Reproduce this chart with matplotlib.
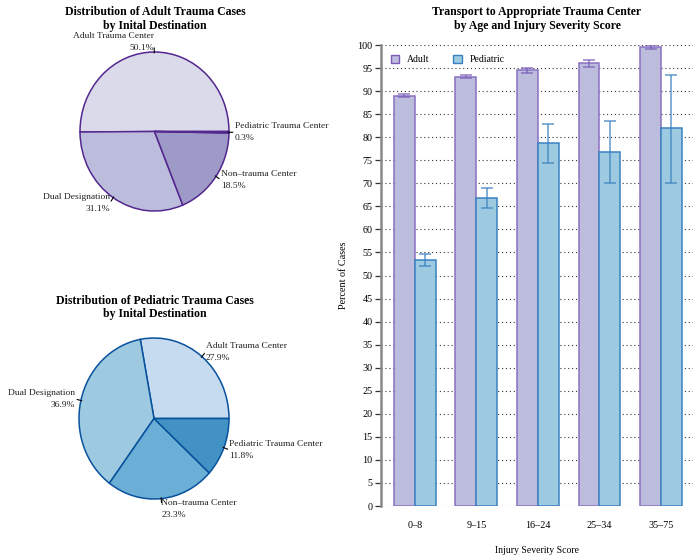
import numpy as np
import matplotlib
matplotlib.use('Agg')
from matplotlib import pyplot as plt
from matplotlib.patches import Patch

plt.rcParams['font.family'] = ['Liberation Serif', 'DejaVu Serif']

# pie data
dest_labels = ['Adult Trauma Center', 'Dual Designation', 'Non\u2013trauma Center', 'Pediatric Trauma Center']
adult_share = [50.1, 31.1, 18.5, 0.3]
peds_share = [27.9, 36.9, 23.3, 11.8]

# bar data
iss_groups = ['0\u20138', '9\u201315', '16\u201324', '25\u201334', '35\u201375']
adult_pct = [89.0, 93.1, 94.5, 96.0, 99.6]
adult_lo = [88.7, 92.8, 94.0, 95.3, 99.2]
adult_hi = [89.3, 93.4, 95.0, 96.7, 100.0]
peds_pct = [53.3, 66.8, 78.7, 76.8, 81.9]
peds_lo = [52.0, 64.7, 74.5, 70.1, 70.1]
peds_hi = [54.7, 68.9, 82.8, 83.5, 93.6]

W, H = 693, 556
fig = plt.figure(figsize=(W / 100, H / 100), dpi=100)


def px_axes(cx, cy, rx, ry):
    # axes placed so a unit pie sits at pixel centre (cx, cy) with radii rx, ry
    w, h = rx * 2.5, ry * 2.5
    return fig.add_axes([(cx - w / 2) / W, (H - cy - h / 2) / H, w / W, h / H])


def draw_pie(ax, shares, colors, edge):
    ax.pie(shares, colors=colors, startangle=0, counterclock=True,
           wedgeprops=dict(edgecolor=edge, linewidth=1.1))
    ax.set_aspect('auto')
    ax.set_xlim(-1.25, 1.25)
    ax.set_ylim(-1.25, 1.25)
    total = sum(shares)
    start = 0.0
    for lab, v in zip(dest_labels, shares):
        mid = np.deg2rad(start + 360 * v / total / 2)
        start += 360 * v / total
        c, s = np.cos(mid), np.sin(mid)
        ax.plot([c * 0.99, c * 1.05], [s * 0.99, s * 1.05], color='black', lw=0.8)
        ha = 'left' if c >= 0 else 'right'
        if s > 0.9:
            va, r = 'bottom', 1.0
        elif s < -0.9:
            va, r = 'top', 1.0
        else:
            va, r = 'center', 1.08
        ax.text(c * r, s * r, f'{lab}\n{v}%', ha=ha, va=va, fontsize=6.8,
                linespacing=1.65, color='#222222')


def fig_title(x, y, txt):
    fig.text(x / W, 1 - y / H, txt, ha='center', va='center', fontsize=8.5,
             fontweight='bold', linespacing=1.2)


ax1 = px_axes(154.5, 131.5, 74.5, 79.5)
draw_pie(ax1, adult_share, ['#dadaeb', '#bcbddc', '#9e9ac8', '#6a51a3'], '#54278f')
fig_title(155, 19, 'Distribution of Adult Trauma Cases\nby Inital Destination')

ax2 = px_axes(154, 418.5, 75, 80.5)
draw_pie(ax2, peds_share, ['#c6dbef', '#9ecae1', '#6baed6', '#4292c6'], '#08519c')
fig_title(155, 307.5, 'Distribution of Pediatric Trauma Cases\nby Inital Destination')

# grouped bar chart
ax = fig.add_axes([381 / W, (H - 506) / H, (W - 381) / W, (506 - 45) / H])
x = np.arange(len(iss_groups))
bw = 0.34
a_err = [np.array(adult_pct) - adult_lo, np.array(adult_hi) - adult_pct]
p_err = [np.array(peds_pct) - peds_lo, np.array(peds_hi) - peds_pct]

ax.bar(x - bw / 2, adult_pct, bw, color='#bcbddc', edgecolor='#8a6fc2', linewidth=1.1, zorder=3)
ax.bar(x + bw / 2, peds_pct, bw, color='#9ecae1', edgecolor='#3a82c2', linewidth=1.1, zorder=3)
ax.errorbar(x - bw / 2, adult_pct, yerr=a_err, fmt='none', ecolor='#7a5cb8', alpha=0.8,
            elinewidth=1.1, capsize=4, capthick=1.1, zorder=4)
ax.errorbar(x + bw / 2, peds_pct, yerr=p_err, fmt='none', ecolor='#3a80c0', alpha=0.8,
            elinewidth=1.1, capsize=4, capthick=1.1, zorder=4)

ax.set_xlim(-0.55, 4.52)
ax.set_ylim(0, 100)
ax.set_yticks(np.arange(0, 101, 5))
ax.set_xticks(x)
ax.set_xticklabels(iss_groups)
ax.yaxis.grid(True, linestyle=(0, (1, 2.5)), color='#333333', linewidth=0.8, zorder=0)
ax.set_axisbelow(True)
for side in ['top', 'right', 'bottom']:
    ax.spines[side].set_visible(False)
ax.spines['left'].set_color('#888888')
ax.spines['left'].set_linewidth(1.8)
ax.tick_params(axis='y', length=4, width=0.9, color='#333333', labelsize=7.3, pad=2)
ax.tick_params(axis='x', length=0, labelsize=7.3, pad=11)
ax.set_ylabel('Percent of Cases', fontsize=7.3, labelpad=7)
ax.set_xlabel('Injury Severity Score', fontsize=7, labelpad=11)
fig_title(537, 19, 'Transport to Appropriate Trauma Center\nby Age and Injury Severity Score')

handles = [Patch(facecolor='#bcbddc', edgecolor='#7a5cb8', label='Adult'),
           Patch(facecolor='#9ecae1', edgecolor='#3a80c0', label='Pediatric')]
ax.legend(handles=handles, loc='upper left', ncol=2, frameon=False, fontsize=7,
          handlelength=0.9, handleheight=0.9, columnspacing=2.4,
          bbox_to_anchor=(0.0, 1.0), borderaxespad=0.6)

fig.savefig('out.png', dpi=100)
